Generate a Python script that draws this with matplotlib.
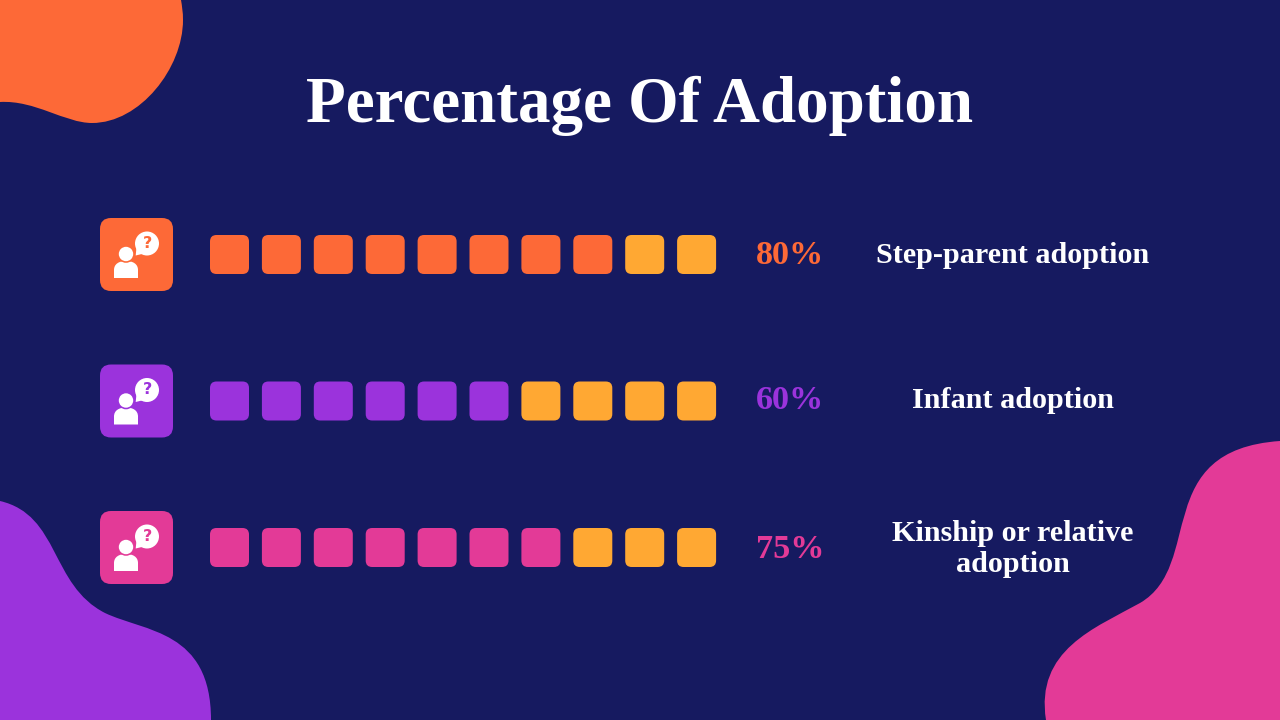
import matplotlib
matplotlib.use("Agg")
import matplotlib.pyplot as plt
from matplotlib.patches import FancyBboxPatch, PathPatch, Circle, Polygon
from matplotlib.path import Path

title = "Percentage Of Adoption"
categories = ["Step-parent adoption", "Infant adoption", "Kinship or relative\nadoption"]
percent_labels = ["80%", "60%", "75%"]
filled_squares = [8, 6, 7]
total_squares = 10
row_colors = ["#FD6937", "#9B33DC", "#E33A97"]
row_centers = [254.5, 401, 547.5]
label_centers = [255.5, 400.5, 549]
pct_centers = [256, 400.5, 549.5]
empty_color = "#FFA833"
bg = "#161A60"
serif = ["Liberation Serif", "DejaVu Serif"]

fig = plt.figure(figsize=(12.8, 7.2), dpi=100, facecolor=bg)
ax = fig.add_axes([0, 0, 1, 1])
ax.set_xlim(0, 1280)
ax.set_ylim(720, 0)
ax.axis("off")


def blob(pts, color):
    codes = [Path.MOVETO] + [Path.CURVE4] * (len(pts) - 1) + [Path.CLOSEPOLY]
    ax.add_patch(PathPatch(Path(pts + [pts[0]], codes), fc=color, ec="none"))


blob([(0, 102), (35, 100), (65, 123), (92, 123),
      (140, 123), (183, 68), (183, 20),
      (183, 12), (182, 6), (181, 0),
      (120, -2), (60, -2), (0, 0),
      (0, 30), (0, 70), (0, 102)], row_colors[0])
blob([(0, 501), (60, 515), (50, 585), (105, 613),
      (145, 632), (211, 630), (211, 720),
      (140, 722), (70, 722), (0, 720),
      (0, 650), (0, 570), (0, 501)], row_colors[1])
blob([(1280, 441), (1150, 450), (1205, 565), (1140, 603),
      (1095, 628), (1035, 650), (1046, 720),
      (1120, 722), (1200, 722), (1280, 720),
      (1280, 630), (1280, 530), (1280, 441)], row_colors[2])


def rrect(x, y, w, h, r, color):
    ax.add_patch(FancyBboxPatch((x + r, y + r), w - 2 * r, h - 2 * r,
                                boxstyle=f"round,pad={r},rounding_size={r}",
                                fc=color, ec="none"))


def icon(cy, color):
    top = cy - 36.5
    rrect(100, top, 73, 73, 11, color)
    # person body: a dome with a notch cut by the ring around the head
    verts = [(114, top + 60), (114, top + 52),
             (114, top + 46), (119, top + 43), (126, top + 43),
             (133, top + 43), (138, top + 46), (138, top + 52),
             (138, top + 60), (114, top + 60)]
    codes = [Path.MOVETO, Path.LINETO, Path.CURVE4, Path.CURVE4, Path.CURVE4,
             Path.CURVE4, Path.CURVE4, Path.CURVE4, Path.LINETO, Path.CLOSEPOLY]
    ax.add_patch(PathPatch(Path(verts, codes), fc="white", ec="none"))
    ax.add_patch(Circle((126, top + 36), 8.8, fc=color, ec="none"))
    ax.add_patch(Circle((126, top + 36), 7.2, fc="white", ec="none"))
    ax.add_patch(Circle((147, top + 25.5), 12, fc="white", ec="none"))
    ax.add_patch(Polygon([(137, top + 24), (135.7, top + 37.5), (146, top + 35)],
                         closed=True, fc="white", ec="none"))
    ax.text(147, top + 25.5, "?", color=color, fontsize=11.5, fontweight="bold",
            family="DejaVu Sans", ha="center", va="center")


ax.text(640, 106, title, color="white", fontsize=46.8, fontweight="bold",
        family=serif, ha="center", va="center")

for i, cat in enumerate(categories):
    cy = row_centers[i]
    icon(cy, row_colors[i])
    for s in range(total_squares):
        c = row_colors[i] if s < filled_squares[i] else empty_color
        rrect(210 + s * 51.9, cy - 19.5, 39, 39, 6.5, c)
    ax.text(790, pct_centers[i], percent_labels[i], color=row_colors[i],
            fontsize=24.6, fontweight="bold", family=serif, ha="center", va="center")
    ax.text(1012.5, label_centers[i], cat, color="white", fontsize=21.7,
            fontweight="bold", family=serif, ha="center", va="center",
            linespacing=1.2)

fig.savefig("out.png", dpi=100, facecolor=bg)
